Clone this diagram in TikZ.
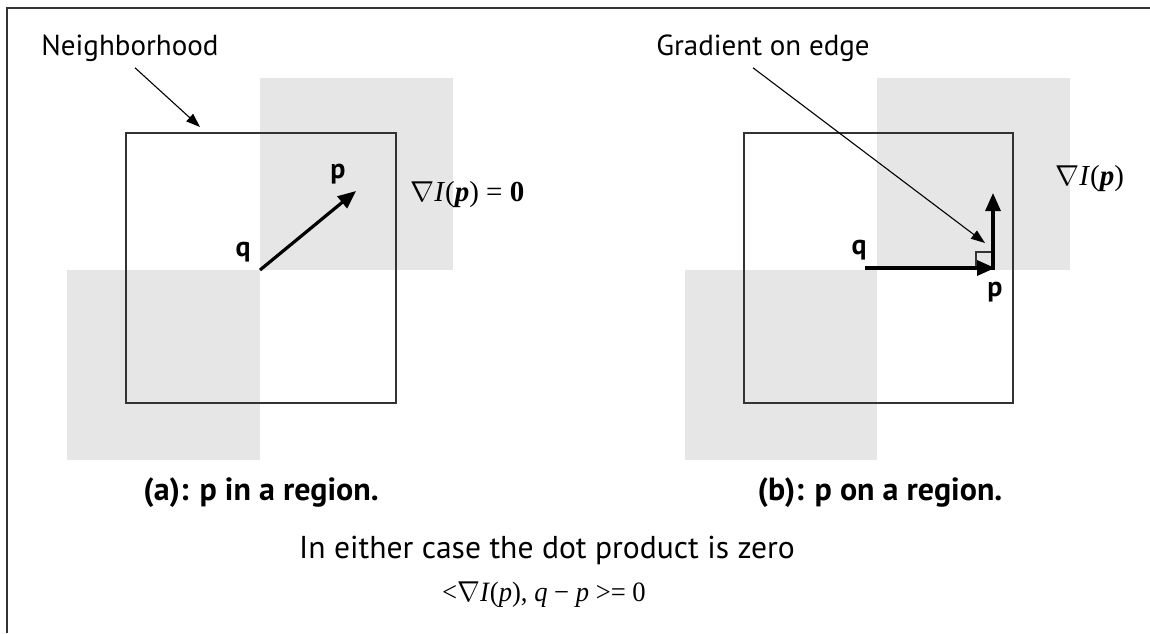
\documentclass[tikz,border=0pt]{standalone}
\usepackage{fontspec}
\usepackage{graphicx}
\setmainfont{Liberation Serif}
\setsansfont{PT Sans}
\usetikzlibrary{arrows.meta}
\definecolor{regiongray}{HTML}{E6E6E6}
\definecolor{linegray}{HTML}{333333}
\tikzset{
  region/.style={fill=regiongray, draw=none},
  nbhd/.style={draw=linegray, line width=0.75pt},
  frameline/.style={draw=linegray, line width=1pt},
  bigarrow/.style={-{Triangle[length=9pt,width=7.5pt]}, line width=1.6pt, black},
  thinarrow/.style={-{Triangle[length=7pt,width=5pt]}, line width=0.55pt, black},
  lbl/.style={font=\sffamily\fontsize{14.5}{16}\selectfont, inner sep=0pt},
  ptlbl/.style={font=\sffamily\bfseries\fontsize{14}{16}\selectfont, inner sep=0pt},
  caption/.style={font=\sffamily\bfseries\fontsize{16}{19}\selectfont, inner sep=0pt},
  mathlbl/.style={font=\rmfamily\fontsize{14.5}{16}\selectfont, inner sep=0pt},
}
\begin{document}
\begin{tikzpicture}[x=0.5pt,y=-0.5pt]
\useasboundingbox (0,0) rectangle (1150,633);
\fill[white] (0,0) rectangle (1150,633);
\draw[frameline] (1150,8) -- (7,8) -- (7,633);

% ---------- panel (a) ----------
\fill[region] (260,78) rectangle (453,270);
\fill[region] (67,270) rectangle (260,460);
\draw[nbhd] (126,133) rectangle (396,403);
\coordinate (qa) at (260,270);
\coordinate (pa) at (356,191);
\draw[bigarrow] (qa) -- (pa);
\node[ptlbl] (qla) at (243,252) {q};
\node[ptlbl] (pla) at (338,174) {p};
\node[mathlbl, anchor=west] (grada) at (410,195) {$\nabla$\textit{I}(\textbf{\textit{p}}) = \textbf{0}};
\node[lbl] (nbtext) at (130,48) {Neighborhood};
\coordinate (nbtip) at (200,127);
\draw[thinarrow] ([xshift=2.5pt,yshift=-3pt]nbtext.south) -- (nbtip);
\node[caption] (capa) at (261,493) {(a): p in a region.};

% ---------- panel (b) ----------
\fill[region] (877,78) rectangle (1070,270);
\fill[region] (685,270) rectangle (877,460);
\draw[nbhd] (744,133) rectangle (1013,403);
\draw[nbhd] (976,252) rectangle (993,268);
\coordinate (qb) at (865,268);
\coordinate (pb) at (995,268);
\coordinate (gb) at (993,193);
\draw[bigarrow] (qb) -- (pb);
\draw[bigarrow] ([yshift=-0.8pt]993,268) -- (gb);
\node[ptlbl] (qlb) at (859,250) {q};
\node[ptlbl] (plb) at (995,292) {p};
\node[mathlbl, anchor=west] (gradb) at (1055,179) {$\nabla$\textit{I}(\textbf{\textit{p}})};
\node[lbl] (getext) at (763,48) {Gradient on edge};
\coordinate (getip) at (985,243);
\draw[thinarrow] ([xshift=-5pt,yshift=-3pt]getext.south) -- (getip);
\node[caption] (capb) at (880,493) {(b): p on a region.};

% ---------- bottom text ----------
\node[lbl, font=\sffamily\fontsize{15.8}{18}\selectfont] (either) at (547,550) {In either case the dot product is zero};
\node[mathlbl, font=\rmfamily\fontsize{14}{16}\selectfont] (dot) at (544,595) {\scalebox{0.95}[1]{<$\nabla$\textit{I}(\textit{p}), \textit{q} − \textit{p} >= 0}};
\end{tikzpicture}
\end{document}
